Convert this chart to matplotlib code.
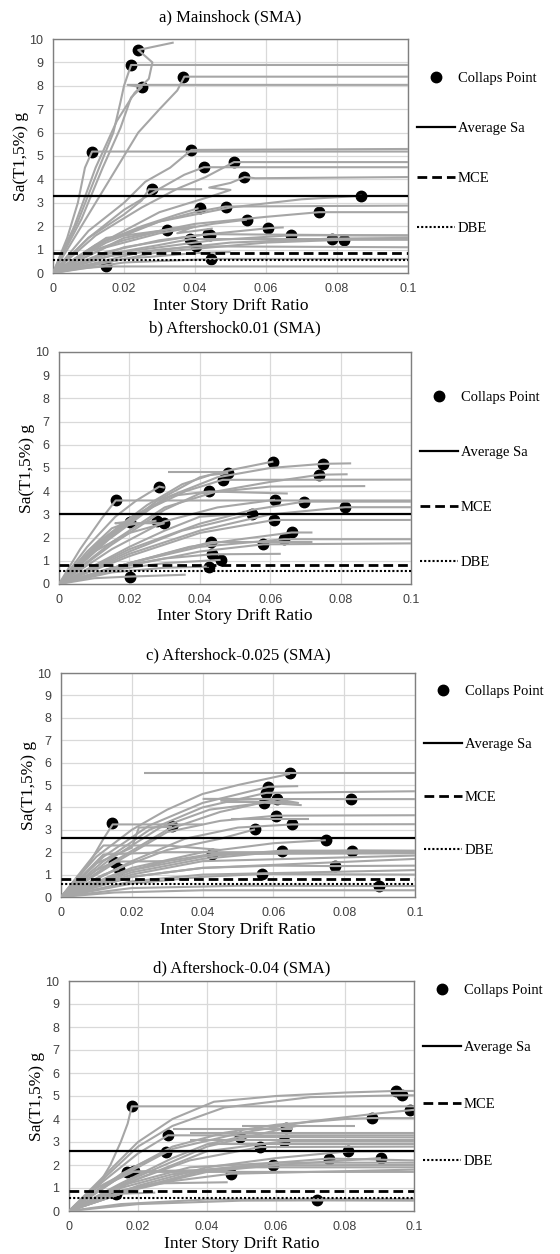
import matplotlib
matplotlib.use("Agg")
import matplotlib.pyplot as plt

# ---- data ----
titles = ["a) Mainshock (SMA)", "b) Aftershock0.01 (SMA)",
          "c) Aftershock-0.025 (SMA)", "d) Aftershock-0.04 (SMA)"]
avg_sa = [3.27, 3.0, 2.63, 2.6]
mce_sa = [0.85, 0.82, 0.82, 0.85]
dbe_sa = [0.57, 0.57, 0.57, 0.57]
x_ticks = [0, 0.02, 0.04, 0.06, 0.08, 0.1]
x_tick_labels = ["0", "0.02", "0.04", "0.06", "0.08", "0.1"]
y_ticks = list(range(0, 11))

# IDA curves, each a list of (drift, Sa) vertices
curves_a = [
    [(0, 0), (0.006, 2), (0.012, 4.5), (0.018, 6.5), (0.023, 7.7), (0.027, 8.3), (0.028, 9.0), (0.024, 9.53), (0.034, 9.85)],
    [(0, 0), (0.007, 2.2), (0.013, 4.5), (0.017, 6), (0.019, 7.3), (0.020, 8.0), (0.022, 8.89), (0.1, 8.89)],
    [(0, 0), (0.008, 2.3), (0.014, 4.5), (0.019, 6.2), (0.022, 7.5), (0.025, 7.94), (0.021, 8.04), (0.1, 8.04)],
    [(0, 0), (0.01, 2.5), (0.018, 4.5), (0.024, 6), (0.03, 7), (0.035, 7.8), (0.037, 8.39), (0.1, 8.39)],
    [(0, 0), (0.004, 1.5), (0.007, 3), (0.009, 4.5), (0.011, 5.19), (0.1, 5.19)],
    [(0, 0), (0.01, 1.8), (0.02, 3), (0.026, 3.9), (0.033, 4.5), (0.039, 5.26), (0.1, 5.3)],
    [(0, 0), (0.01, 1.5), (0.02, 2.7), (0.03, 3.6), (0.037, 4.2), (0.0425, 4.52), (0.1, 4.52)],
    [(0, 0), (0.012, 1.6), (0.025, 2.8), (0.035, 3.6), (0.043, 4.1), (0.051, 4.74), (0.1, 4.74)],
    [(0, 0), (0.015, 1.4), (0.03, 2.6), (0.045, 3.3), (0.05, 3.55), (0.044, 3.65), (0.05, 3.85), (0.054, 4.1), (0.057, 4.05), (0.1, 4.1)],
    [(0, 0), (0.01, 1.5), (0.02, 2.5), (0.025, 3.1), (0.027, 3.58), (0.042, 3.58)],
    [(0, 0), (0.015, 1.4), (0.03, 2.2), (0.05, 2.8), (0.07, 3.15), (0.087, 3.3)],
    [(0, 0), (0.012, 1.2), (0.025, 2.0), (0.035, 2.5), (0.041, 2.77)],
    [(0, 0), (0.015, 1.3), (0.03, 2.2), (0.04, 2.6), (0.0486, 2.84), (0.1, 2.88)],
    [(0, 0), (0.02, 1.5), (0.04, 2.1), (0.06, 2.4), (0.075, 2.6), (0.1, 2.6)],
    [(0, 0), (0.015, 1.1), (0.03, 1.7), (0.045, 2.1), (0.0546, 2.28)],
    [(0, 0), (0.01, 0.9), (0.02, 1.4), (0.032, 1.85)],
    [(0, 0), (0.02, 1.1), (0.04, 1.6), (0.061, 1.92), (0.065, 1.95)],
    [(0, 0), (0.015, 0.9), (0.03, 1.4), (0.0437, 1.66), (0.1, 1.6)],
    [(0, 0), (0.02, 0.9), (0.045, 1.4), (0.067, 1.61), (0.1, 1.61)],
    [(0, 0), (0.025, 0.9), (0.05, 1.3), (0.0785, 1.47), (0.1, 1.5)],
    [(0, 0), (0.03, 0.9), (0.06, 1.3), (0.082, 1.42), (0.1, 1.42)],
    [(0, 0), (0.015, 0.8), (0.03, 1.2), (0.0387, 1.45), (0.1, 1.45)],
    [(0, 0), (0.015, 0.7), (0.03, 1.0), (0.04, 1.14), (0.1, 1.1)],
    [(0, 0), (0.02, 0.45), (0.0446, 0.6), (0.1, 0.6)],
    [(0, 0), (0.008, 0.2), (0.0148, 0.28), (0.1, 0.28)],
    [(0, 0), (0.02, 0.6), (0.04, 0.85), (0.05, 0.9)],
    [(0, 0), (0.015, 1.5), (0.03, 1.8), (0.04, 2.0), (0.035, 1.7), (0.045, 1.9)],
]
collapse_a_x = [0.0239, 0.0219, 0.0252, 0.0366, 0.011, 0.0388, 0.0425, 0.051, 0.0538, 0.028,
                0.0869, 0.0413, 0.0486, 0.0749, 0.0546, 0.0322, 0.0606, 0.0437, 0.0443, 0.0671,
                0.0785, 0.082, 0.0387, 0.0402, 0.0446, 0.0148]
collapse_a_y = [9.53, 8.89, 7.94, 8.39, 5.19, 5.26, 4.52, 4.74, 4.10, 3.58,
                3.30, 2.77, 2.84, 2.60, 2.28, 1.85, 1.92, 1.66, 1.61, 1.61,
                1.47, 1.42, 1.45, 1.14, 0.60, 0.28]

curves_b = [
    [(0, 0), (0.006, 1.5), (0.012, 2.8), (0.0161, 3.6), (0.1, 3.6)],
    [(0, 0), (0.008, 1.6), (0.016, 2.9), (0.022, 3.6), (0.0285, 4.2), (0.03, 4.15)],
    [(0, 0), (0.008, 1.4), (0.015, 2.4), (0.0201, 2.69), (0.016, 2.62), (0.03, 2.62)],
    [(0, 0), (0.01, 1.6), (0.018, 2.5), (0.0277, 2.73)],
    [(0, 0), (0.01, 1.4), (0.02, 2.2), (0.0299, 2.62)],
    [(0, 0), (0.012, 1.8), (0.022, 3.0), (0.032, 3.8), (0.0427, 3.99), (0.065, 3.9)],
    [(0, 0), (0.012, 1.7), (0.025, 3.2), (0.036, 4.0), (0.0465, 4.49), (0.1, 4.5)],
    [(0, 0), (0.012, 1.9), (0.025, 3.4), (0.035, 4.3), (0.043, 4.7), (0.0481, 4.78)],
    [(0.031, 4.83), (0.048, 4.83)],
    [(0, 0), (0.014, 2.0), (0.028, 3.6), (0.04, 4.6), (0.05, 4.95), (0.0609, 5.28)],
    [(0, 0), (0.014, 1.9), (0.03, 3.7), (0.045, 4.6), (0.06, 5.0), (0.075, 5.18), (0.083, 5.2)],
    [(0, 0), (0.015, 1.8), (0.03, 3.3), (0.045, 4.0), (0.06, 4.4), (0.074, 4.71), (0.082, 4.73)],
    [(0, 0), (0.015, 1.7), (0.03, 3.2), (0.04, 3.9), (0.06, 4.2), (0.087, 4.22)],
    [(0, 0), (0.015, 1.5), (0.03, 2.7), (0.045, 3.3), (0.0614, 3.63)],
    [(0, 0), (0.02, 1.5), (0.04, 2.6), (0.055, 3.2), (0.0696, 3.55), (0.1, 3.55)],
    [(0, 0), (0.02, 1.3), (0.04, 2.3), (0.06, 3.0), (0.0813, 3.31), (0.1, 3.31)],
    [(0, 0), (0.02, 1.4), (0.035, 2.3), (0.0547, 3.02)],
    [(0, 0), (0.02, 1.2), (0.04, 2.2), (0.0611, 2.76), (0.1, 2.76)],
    [(0, 0), (0.02, 0.9), (0.037, 1.6), (0.05, 1.9), (0.0661, 2.22), (0.072, 2.22)],
    [(0, 0), (0.02, 0.9), (0.04, 1.6), (0.0639, 1.93), (0.1, 1.93)],
    [(0, 0), (0.02, 0.8), (0.04, 1.4), (0.058, 1.71), (0.1, 1.75)],
    [(0, 0), (0.02, 0.9), (0.035, 1.5), (0.0433, 1.81), (0.072, 1.81)],
    [(0, 0), (0.015, 0.7), (0.03, 1.1), (0.0434, 1.28), (0.063, 1.3)],
    [(0, 0), (0.015, 0.6), (0.03, 0.9), (0.0459, 1.04)],
    [(0, 0), (0.015, 0.5), (0.03, 0.7), (0.0426, 0.75)],
    [(0, 0), (0.01, 0.25), (0.0201, 0.32), (0.036, 0.4)],
    [(0, 0), (0.02, 1.6), (0.03, 2.3), (0.04, 2.9), (0.05, 3.0)],
]
collapse_b_x = [0.0161, 0.0285, 0.0201, 0.0277, 0.0299, 0.0201, 0.0427, 0.0465, 0.0481, 0.0609,
                0.075, 0.074, 0.0614, 0.0696, 0.0813, 0.0547, 0.0611, 0.0661, 0.0639, 0.058,
                0.0433, 0.0434, 0.0459, 0.0426]
collapse_b_y = [3.60, 4.20, 2.69, 2.73, 2.62, 0.32, 3.99, 4.49, 4.78, 5.28,
                5.18, 4.71, 3.63, 3.55, 3.31, 3.02, 2.76, 2.22, 1.93, 1.71,
                1.81, 1.28, 1.04, 0.75]

curves_c = [
    [(0, 0), (0.008, 1.5), (0.012, 2.6), (0.0146, 3.24), (0.04, 3.24)],
    [(0, 0), (0.01, 1.8), (0.02, 3.0), (0.03, 3.9), (0.04, 4.6), (0.05, 5.0), (0.0647, 5.5)],
    [(0.0235, 5.55), (0.1, 5.55)],
    [(0, 0), (0.012, 1.8), (0.025, 3.2), (0.04, 4.2), (0.0586, 4.92), (0.067, 4.95)],
    [(0, 0), (0.012, 1.6), (0.025, 3.0), (0.04, 4.0), (0.058, 4.65), (0.1, 4.72)],
    [(0, 0), (0.014, 1.7), (0.028, 3.1), (0.042, 3.9), (0.0574, 4.21), (0.068, 4.1)],
    [(0, 0), (0.014, 1.5), (0.03, 3.0), (0.045, 3.8), (0.0611, 4.36), (0.067, 4.2), (0.045, 4.3)],
    [(0.04, 4.38), (0.0818, 4.37), (0.1, 4.37)],
    [(0.046, 4.25), (0.065, 4.25)],
    [(0, 0), (0.016, 1.6), (0.03, 2.9), (0.045, 3.4), (0.0607, 3.63), (0.1, 3.65)],
    [(0.048, 3.5), (0.07, 3.5)],
    [(0, 0), (0.02, 1.6), (0.035, 2.6), (0.05, 3.1), (0.0653, 3.24), (0.1, 3.25)],
    [(0, 0), (0.015, 1.2), (0.03, 2.1), (0.045, 2.6), (0.0548, 3.02)],
    [(0, 0), (0.01, 1.5), (0.02, 2.2), (0.022, 3.1), (0.0314, 3.13)],
    [(0, 0), (0.01, 1.2), (0.0151, 1.58), (0.03, 1.6)],
    [(0, 0), (0.012, 1.0), (0.0164, 1.25)],
    [(0, 0), (0.015, 1.0), (0.03, 1.6), (0.0426, 1.92), (0.1, 1.95)],
    [(0, 0), (0.02, 1.2), (0.04, 1.8), (0.0625, 2.07), (0.1, 2.07)],
    [(0, 0), (0.02, 1.1), (0.04, 1.7), (0.06, 2.0), (0.0821, 2.07), (0.1, 2.05)],
    [(0, 0), (0.02, 1.0), (0.04, 1.6), (0.1, 1.85)],
    [(0, 0), (0.02, 0.9), (0.04, 1.3), (0.1, 1.7)],
    [(0, 0), (0.02, 0.9), (0.04, 1.3), (0.06, 1.4), (0.0774, 1.38), (0.1, 1.4)],
    [(0, 0), (0.02, 0.7), (0.04, 1.0), (0.1, 1.2)],
    [(0, 0), (0.02, 0.6), (0.04, 0.9), (0.0569, 1.03), (0.1, 1.0)],
    [(0, 0), (0.02, 0.4), (0.05, 0.5), (0.0898, 0.49), (0.1, 0.49)],
    [(0, 0), (0.015, 0.2), (0.04, 0.3), (0.1, 0.3)],
    [(0, 0), (0.02, 1.3), (0.04, 2.0), (0.06, 2.4), (0.0748, 2.54)],
    [(0, 0), (0.012, 1.9), (0.03, 2.0), (0.1, 2.0)],
    [(0, 0), (0.009, 1.8), (0.012, 2.3), (0.03, 2.3), (0.045, 2.1)],
]
collapse_c_x = [0.0145, 0.0151, 0.0164, 0.0313, 0.0426, 0.0548, 0.0569, 0.0586, 0.058, 0.0574,
                0.0611, 0.0607, 0.0653, 0.0647, 0.0625, 0.0748, 0.0818, 0.0821, 0.0774, 0.0898]
collapse_c_y = [3.29, 1.58, 1.25, 3.18, 1.92, 3.02, 1.03, 4.92, 4.65, 4.21,
                4.36, 3.63, 3.24, 5.55, 2.07, 2.54, 4.37, 2.07, 1.38, 0.49]

curves_d = [
    [(0, 0), (0.008, 1.0), (0.012, 2.0), (0.015, 3.0), (0.017, 3.8), (0.0182, 4.55), (0.1, 4.55)],
    [(0, 0), (0.01, 1.5), (0.02, 3.0), (0.03, 4.0), (0.042, 4.75), (0.06, 5.0), (0.08, 5.15), (0.0947, 5.22), (0.1, 5.22)],
    [(0, 0), (0.01, 1.4), (0.02, 2.8), (0.03, 3.7), (0.045, 4.5), (0.07, 4.95), (0.0964, 5.03), (0.1, 5.03)],
    [(0, 0), (0.015, 1.6), (0.03, 2.8), (0.045, 3.4), (0.06, 3.75), (0.08, 4.0), (0.0878, 4.04), (0.1, 4.04)],
    [(0, 0), (0.015, 1.5), (0.03, 2.7), (0.05, 3.4), (0.07, 3.9), (0.09, 4.25), (0.0988, 4.38), (0.1, 4.4)],
    [(0, 0), (0.01, 1.3), (0.02, 2.5), (0.0287, 3.29), (0.1, 3.29)],
    [(0, 0), (0.012, 1.2), (0.02, 2.0), (0.028, 2.57), (0.04, 2.6)],
    [(0, 0), (0.008, 1.0), (0.0169, 1.70), (0.1, 1.7)],
    [(0, 0), (0.01, 1.1), (0.0189, 1.72), (0.045, 1.8)],
    [(0, 0), (0.008, 0.6), (0.0137, 0.75), (0.025, 0.8)],
    [(0, 0), (0.015, 0.8), (0.03, 1.3), (0.0469, 1.62), (0.1, 1.8)],
    [(0, 0), (0.015, 1.2), (0.03, 2.3), (0.04, 2.9), (0.0497, 3.22), (0.1, 3.2)],
    [(0, 0), (0.02, 1.4), (0.035, 2.2), (0.0555, 2.78), (0.1, 2.8)],
    [(0, 0), (0.02, 1.5), (0.04, 2.8), (0.0629, 3.61), (0.066, 3.7)],
    [(0, 0), (0.02, 1.4), (0.04, 2.6), (0.0623, 3.03), (0.1, 3.03)],
    [(0, 0), (0.02, 1.0), (0.04, 1.7), (0.0592, 1.99), (0.1, 2.0)],
    [(0, 0), (0.02, 1.0), (0.04, 1.8), (0.06, 2.1), (0.0754, 2.28), (0.1, 2.2)],
    [(0, 0), (0.02, 1.1), (0.04, 1.9), (0.06, 2.3), (0.0808, 2.59), (0.1, 2.6)],
    [(0, 0), (0.02, 1.0), (0.04, 1.8), (0.07, 2.1), (0.0904, 2.30)],
    [(0, 0), (0.02, 0.3), (0.05, 0.45), (0.0718, 0.46), (0.1, 0.45)],
    [(0, 0), (0.015, 0.3), (0.04, 0.5), (0.1, 0.52)],
    [(0.035, 3.4), (0.1, 3.4)],
    [(0.035, 3.1), (0.1, 3.1)],
    [(0.04, 2.9), (0.1, 2.9)],
    [(0.05, 3.7), (0.083, 3.7)],
    [(0.03, 3.55), (0.065, 3.55)],
    [(0, 0), (0.015, 1.0), (0.03, 1.6), (0.05, 1.9), (0.1, 1.9)],
    [(0, 0), (0.015, 1.1), (0.035, 1.9), (0.06, 2.1), (0.1, 2.1)],
    [(0, 0), (0.012, 0.8), (0.025, 1.2), (0.046, 1.25)],
]
collapse_d_x = [0.0182, 0.0287, 0.028, 0.0169, 0.0189, 0.0137, 0.0469, 0.0497, 0.0555, 0.0629,
                0.0623, 0.0592, 0.0754, 0.0808, 0.0878, 0.0904, 0.0947, 0.0964, 0.0988, 0.0718]
collapse_d_y = [4.55, 3.29, 2.57, 1.70, 1.72, 0.75, 1.62, 3.22, 2.78, 3.61,
                3.03, 1.99, 2.28, 2.59, 4.04, 2.30, 5.22, 5.03, 4.38, 0.46]

all_curves = [curves_a, curves_b, curves_c, curves_d]
all_cx = [collapse_a_x, collapse_b_x, collapse_c_x, collapse_d_x]
all_cy = [collapse_a_y, collapse_b_y, collapse_c_y, collapse_d_y]

# ---- layout (pixel boxes of each panel in the 560x1254 picture) ----
W, H = 560, 1254
boxes = [(53, 39, 408, 273), (59, 352, 411, 584), (61, 673, 415, 897), (69, 981, 414, 1211)]
title_pad = [13, 14, 10, 6]
legend_top = [0.897, 0.871, 0.987, 1.026]
legend_gap = [2.52, 2.86, 2.73, 3.0]

serif = ["Liberation Serif", "DejaVu Serif"]
fig = plt.figure(figsize=(W / 100, H / 100), dpi=100)

for i in range(4):
    l, t, r, b = boxes[i]
    ax = fig.add_axes([l / W, 1 - b / H, (r - l) / W, (b - t) / H])

    for c in all_curves[i]:
        xs = [p[0] for p in c]
        ys = [p[1] for p in c]
        ax.plot(xs, ys, color="#a6a6a6", lw=1.5, zorder=3, solid_capstyle="butt")
    ax.plot(all_cx[i], all_cy[i], "o", color="black", ms=7.5, zorder=2, ls="none",
            label="Collaps Point")

    ax.axhline(avg_sa[i], color="black", lw=1.6, zorder=4, label="Average Sa")
    ax.axhline(mce_sa[i], color="black", lw=2.0, ls=(0, (3.5, 1.8)), zorder=4, label="MCE")
    ax.axhline(dbe_sa[i], color="black", lw=1.5, ls=(0, (1, 1)), zorder=4, label="DBE")

    ax.set_xlim(0, 0.1)
    ax.set_ylim(0, 10)
    ax.set_xticks(x_ticks)
    ax.set_xticklabels(x_tick_labels)
    ax.set_yticks(y_ticks)
    ax.grid(True, color="#d9d9d9", lw=0.9, zorder=0)
    ax.set_axisbelow(True)
    ax.tick_params(length=0, labelsize=9, labelcolor="#404040", pad=7)
    for lab in ax.get_xticklabels() + ax.get_yticklabels():
        lab.set_family("Liberation Sans")
    for s in ax.spines.values():
        s.set_color("#7f7f7f")
        s.set_linewidth(1.0)

    ax.set_title(titles[i], family=serif, fontsize=12, pad=title_pad[i])
    ax.set_xlabel("Inter Story Drift Ratio", family=serif, fontsize=12.5, labelpad=2)
    ax.set_ylabel("Sa(T1,5%) g", family=serif, fontsize=12.5, labelpad=0)

    ax.legend(loc="upper left", bbox_to_anchor=(1.0, legend_top[i]), frameon=False,
              prop={"family": serif, "size": 10.5}, labelspacing=legend_gap[i],
              handlelength=2.6, handletextpad=0.2, borderaxespad=0.2)

fig.savefig("out.png", dpi=100)
